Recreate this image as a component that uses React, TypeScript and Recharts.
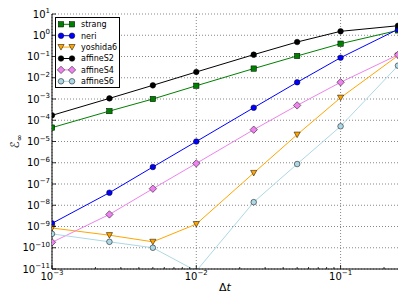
import React from 'react';
import { LineChart, Line, XAxis, YAxis, CartesianGrid, Legend } from 'recharts';

// ---- data ----
const dtValues = [0.001, 0.0025, 0.005, 0.01, 0.025, 0.05, 0.1, 0.25];
const seriesNames = ['strang', 'neri', 'yoshida6', 'affineS2', 'affineS4', 'affineS6'];
const strang = [4.5e-5, 2.7e-4, 1.0e-3, 4.2e-3, 2.7e-2, 0.106, 0.4, 1.7];
const neri = [1.4e-9, 3.9e-8, 6.3e-7, 1.0e-5, 3.9e-4, 6.1e-3, 8.8e-2, 1.9];
const yoshida6 = [8.5e-10, 3.9e-10, 1.9e-10, 1.3e-9, 3.3e-7, 2.1e-5, 1.15e-3, 0.11];
const affineS2 = [1.7e-4, 1.07e-3, 4.4e-3, 1.87e-2, 0.122, 0.48, 1.53, 2.8];
const affineS4 = [1.8e-10, 3.7e-9, 6.0e-8, 9.3e-7, 3.6e-5, 5.0e-4, 6.1e-3, 0.12];
const affineS6 = [4.5e-10, 1.9e-10, 1.0e-10, 8e-12, 1.4e-8, 8.7e-7, 5.2e-5, 3.7e-2];

const xMajorTicks = [0.001, 0.01, 0.1];
const xMinorMultipliers = [2, 3, 4, 5, 6, 7, 8, 9];
const xDomain = [0.001, 0.25];
const yTicks = [1e-11, 1e-10, 1e-9, 1e-8, 1e-7, 1e-6, 1e-5, 1e-4, 1e-3, 1e-2, 1e-1, 1e0, 1e1];
const yDomain = [1e-11, 1e1];

const seriesValues: Record<string, number[]> = { strang, neri, yoshida6, affineS2, affineS4, affineS6 };

const data = dtValues.map((dt, i) => {
  const row: Record<string, number> = { dt };
  seriesNames.forEach((n) => {
    row[n] = seriesValues[n][i];
  });
  return row;
});

const xTicksAll: number[] = [];
xMajorTicks.forEach((d) => {
  xTicksAll.push(d);
  xMinorMultipliers.forEach((m) => {
    const v = d * m;
    if (v <= xDomain[1] * 1.0001) xTicksAll.push(v);
  });
});

// ---- styles ----
const FONT = '"DejaVu Sans", sans-serif';
const styles: Record<string, { color: string; marker: string }> = {
  strang: { color: '#008000', marker: 'square' },
  neri: { color: '#0000ff', marker: 'circle' },
  yoshida6: { color: '#ffa500', marker: 'triangle' },
  affineS2: { color: '#000000', marker: 'circle' },
  affineS4: { color: '#ee82ee', marker: 'diamond' },
  affineS6: { color: '#add8e6', marker: 'circle' },
};

const isMajorX = (v: number) => xMajorTicks.some((m) => Math.abs(v - m) / m < 1e-6);
const expText = (v: number) => {
  const e = Math.round(Math.log10(v));
  return e < 0 ? '\u2212' + String(-e) : String(e);
};

const Marker = ({ shape, cx, cy, fill }: any) => {
  if (cx == null || cy == null) return null;
  const s = '#000';
  const sw = 0.5;
  switch (shape) {
    case 'square':
      return <rect x={cx - 2.7} y={cy - 2.7} width={5.4} height={5.4} fill={fill} stroke={s} strokeWidth={sw} />;
    case 'triangle':
      return (
        <polygon
          points={`${cx - 3.1},${cy - 2.6} ${cx + 3.1},${cy - 2.6} ${cx},${cy + 3.0}`}
          fill={fill}
          stroke={s}
          strokeWidth={sw}
        />
      );
    case 'diamond':
      return (
        <polygon
          points={`${cx},${cy - 3.7} ${cx + 3.7},${cy} ${cx},${cy + 3.7} ${cx - 3.7},${cy}`}
          fill={fill}
          stroke={s}
          strokeWidth={sw}
        />
      );
    default:
      return <circle cx={cx} cy={cy} r={2.8} fill={fill} stroke={s} strokeWidth={sw} />;
  }
};

const BottomTick = (p: any) => {
  const { x, y, payload } = p;
  const v = payload.value;
  const major = isMajorX(v);
  return (
    <g>
      <line x1={x} x2={x} y1={y} y2={y - (major ? 4 : 2)} stroke="#000" strokeWidth={0.8} />
      {major && (
        <text x={x} y={y + 10.5} textAnchor="middle" fontFamily={FONT} fontSize={10} fill="#000">
          10
          <tspan dy={-4.5} fontSize={7}>
            {expText(v)}
          </tspan>
        </text>
      )}
    </g>
  );
};

const TopTick = (p: any) => {
  const { x, y, payload } = p;
  const major = isMajorX(payload.value);
  return <line x1={x} x2={x} y1={y} y2={y + (major ? 4 : 2)} stroke="#000" strokeWidth={0.8} />;
};

const LeftTick = (p: any) => {
  const { x, y, payload } = p;
  return (
    <g>
      <line x1={x} x2={x + 4} y1={y} y2={y} stroke="#000" strokeWidth={0.8} />
      <text x={x - 2} y={y + 3.5} textAnchor="end" fontFamily={FONT} fontSize={10} fill="#000">
        10
        <tspan dy={-4.5} fontSize={7}>
          {expText(payload.value)}
        </tspan>
      </text>
    </g>
  );
};

const RightTick = (p: any) => {
  const { x, y } = p;
  return <line x1={x} x2={x - 4} y1={y} y2={y} stroke="#000" strokeWidth={0.8} />;
};

const XLabel = (p: any) => {
  const vb = p.viewBox || {};
  const cx = vb.x + vb.width / 2;
  return (
    <text x={cx} y={vb.y + 21.5} textAnchor="middle" fontFamily={FONT} fontSize={11} fill="#000">
      Δ<tspan fontStyle="italic">t</tspan>
    </text>
  );
};

const YLabel = (p: any) => {
  const vb = p.viewBox || {};
  const cx = 19;
  const cy = vb.y + vb.height / 2;
  return (
    <text
      x={cx}
      y={cy}
      textAnchor="middle"
      transform={`rotate(-90 ${cx} ${cy})`}
      fontFamily={FONT}
      fontSize={12}
      fill="#000"
    >
      ℰ
      <tspan dy={3} fontSize={8}>
        ∞
      </tspan>
    </text>
  );
};

const LegendBox = (props: any) => {
  const rows = [...(props.payload || [])].sort(
    (a: any, b: any) => seriesNames.indexOf(a.value) - seriesNames.indexOf(b.value)
  );
  const w = 65;
  const h = 71;
  return (
    <svg width={w} height={h} style={{ display: 'block' }}>
      <rect x={0.5} y={0.5} width={w - 1} height={h - 1} fill="#fff" stroke="#000" strokeWidth={1} />
      {rows.map((e: any, i: number) => {
        const cy = 7.3 + i * 11.4;
        const st = styles[e.value] || { color: e.color, marker: 'circle' };
        return (
          <g key={e.value}>
            <line x1={6} x2={17} y1={cy} y2={cy} stroke={st.color} strokeWidth={1} />
            <Marker shape={st.marker} cx={6} cy={cy} fill={st.color} />
            <Marker shape={st.marker} cx={17} cy={cy} fill={st.color} />
            <text x={26} y={cy + 2.9} fontSize={8} fontFamily={FONT} fill="#000">
              {e.value}
            </text>
          </g>
        );
      })}
    </svg>
  );
};

export default function App() {
  return (
    <div style={{ position: 'absolute', left: 0, top: 0, width: 407, height: 305, background: '#fff' }}>
      <LineChart width={407} height={305} data={data} margin={{ top: 14, right: 9, bottom: 0, left: 0 }}>
        <CartesianGrid
          stroke="#555"
          strokeDasharray="1 2"
          strokeWidth={0.7}
          verticalValues={xMajorTicks}
          horizontalValues={yTicks}
        />
        <XAxis
          dataKey="dt"
          type="number"
          scale="log"
          domain={xDomain}
          allowDataOverflow
          ticks={xTicksAll}
          interval={0}
          tickSize={0}
          tickMargin={0}
          tickLine={false}
          tick={(p: any) => <BottomTick {...p} />}
          axisLine={{ stroke: '#000', strokeWidth: 1 }}
          height={36}
          label={<XLabel />}
        />
        <XAxis
          xAxisId="top"
          orientation="top"
          dataKey="dt"
          type="number"
          scale="log"
          domain={xDomain}
          allowDataOverflow
          ticks={xTicksAll}
          interval={0}
          tickSize={0}
          tickMargin={0}
          tickLine={false}
          tick={(p: any) => <TopTick {...p} />}
          axisLine={{ stroke: '#000', strokeWidth: 1 }}
          height={0}
        />
        <YAxis
          type="number"
          scale="log"
          domain={yDomain}
          allowDataOverflow
          ticks={yTicks}
          interval={0}
          tickSize={0}
          tickMargin={0}
          tickLine={false}
          tick={(p: any) => <LeftTick {...p} />}
          axisLine={{ stroke: '#000', strokeWidth: 1 }}
          width={52}
          label={<YLabel />}
        />
        <YAxis
          yAxisId="right"
          orientation="right"
          type="number"
          scale="log"
          domain={yDomain}
          allowDataOverflow
          ticks={yTicks}
          interval={0}
          tickSize={0}
          tickMargin={0}
          tickLine={false}
          tick={(p: any) => <RightTick {...p} />}
          axisLine={{ stroke: '#000', strokeWidth: 1 }}
          width={0}
        />
        <Legend
          layout="vertical"
          align="center"
          verticalAlign="middle"
          wrapperStyle={{ left: 55, top: 17, width: 65, height: 71 }}
          content={(props: any) => <LegendBox payload={props.payload} />}
        />
        {seriesNames.map((name) => (
          <Line
            key={name}
            name={name}
            dataKey={name}
            stroke={styles[name].color}
            strokeWidth={1}
            isAnimationActive={false}
            activeDot={false}
            dot={(dp: any) => (
              <Marker
                key={`${name}-${dp.index}`}
                shape={styles[name].marker}
                cx={dp.cx}
                cy={dp.cy}
                fill={styles[name].color}
              />
            )}
          />
        ))}
      </LineChart>
    </div>
  );
}
